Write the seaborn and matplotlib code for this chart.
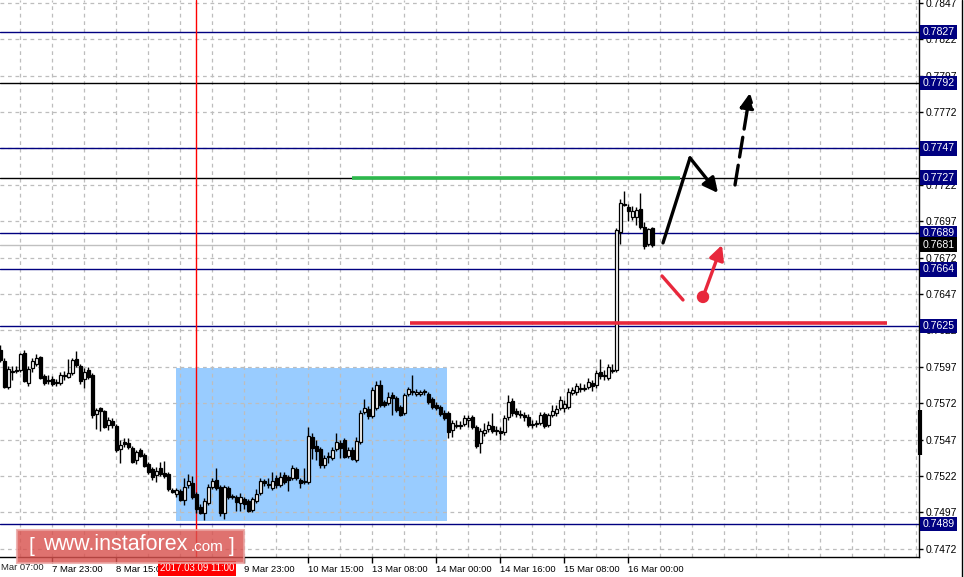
import matplotlib
matplotlib.use("Agg")
import numpy as np
import pandas as pd
import matplotlib.pyplot as plt
import seaborn as sns
from matplotlib.patches import Rectangle, FancyArrowPatch
from matplotlib.lines import Line2D

# H1 candles, 7 Mar 10:00 .. 16 Mar 07:00
opens = [0.76086, 0.76010, 0.75832, 0.75934, 0.75941, 0.75948, 0.76065, 0.75859, 0.75962, 0.75990,
         0.76037, 0.75907, 0.75880, 0.75886, 0.75866, 0.75859, 0.75907, 0.75900, 0.75927, 0.76024,
         0.75976, 0.75886, 0.75948, 0.75914, 0.75646, 0.75687, 0.75666, 0.75570, 0.75597, 0.75563,
         0.75405, 0.75453, 0.75446, 0.75412, 0.75330, 0.75399, 0.75365, 0.75302, 0.75268, 0.75227,
         0.75275, 0.75240, 0.75234, 0.75124, 0.75096, 0.75117, 0.75055, 0.75158, 0.75172, 0.75096,
         0.75007, 0.74966, 0.75034, 0.75144, 0.75192, 0.75144, 0.74966, 0.75138, 0.75083, 0.75076,
         0.75034, 0.75062, 0.75048, 0.74986, 0.75048, 0.75103, 0.75185, 0.75165, 0.75138, 0.75206,
         0.75158, 0.75227, 0.75213, 0.75206, 0.75268, 0.75192, 0.75185, 0.75179, 0.75488, 0.75426,
         0.75405, 0.75296, 0.75358, 0.75344, 0.75405, 0.75446, 0.75467, 0.75358, 0.75399, 0.75330,
         0.75453, 0.75660, 0.75680, 0.75632, 0.75687, 0.75846, 0.75728, 0.75721, 0.75777, 0.75756,
         0.75694, 0.75653, 0.75784, 0.75804, 0.75784, 0.75784, 0.75804, 0.75784, 0.75749, 0.75708,
         0.75694, 0.75653, 0.75653, 0.75536, 0.75570, 0.75570, 0.75577, 0.75604, 0.75625, 0.75556,
         0.75446, 0.75515, 0.75543, 0.75563, 0.75536, 0.75529, 0.75522, 0.75625, 0.75735, 0.75666,
         0.75646, 0.75639, 0.75625, 0.75577, 0.75584, 0.75584, 0.75646, 0.75570, 0.75639, 0.75653,
         0.75687, 0.75687, 0.75694, 0.75790, 0.75797, 0.75825, 0.75818, 0.75832, 0.75859, 0.75846,
         0.75934, 0.75914, 0.75893, 0.75948, 0.75948, 0.76896, 0.77088, 0.77067, 0.76999, 0.76999,
         0.77054, 0.76931, 0.76813, 0.76924]
closes = [0.76017, 0.75832, 0.75955, 0.75941, 0.75948, 0.76058, 0.75873, 0.75955, 0.76010, 0.76031,
          0.75893, 0.75859, 0.75873, 0.75853, 0.75859, 0.75914, 0.75914, 0.75927, 0.76017, 0.75983,
          0.75873, 0.75934, 0.75900, 0.75639, 0.75673, 0.75666, 0.75556, 0.75604, 0.75570, 0.75399,
          0.75433, 0.75439, 0.75419, 0.75316, 0.75385, 0.75358, 0.75289, 0.75247, 0.75213, 0.75254,
          0.75234, 0.75220, 0.75131, 0.75110, 0.75124, 0.75055, 0.75144, 0.75185, 0.75076, 0.74993,
          0.74966, 0.75048, 0.75144, 0.75185, 0.75138, 0.74966, 0.75144, 0.75076, 0.75076, 0.75041,
          0.75076, 0.75028, 0.74979, 0.75062, 0.75096, 0.75185, 0.75172, 0.75158, 0.75185, 0.75158,
          0.75213, 0.75179, 0.75192, 0.75275, 0.75206, 0.75172, 0.75179, 0.75494, 0.75412, 0.75392,
          0.75296, 0.75344, 0.75351, 0.75399, 0.75453, 0.75412, 0.75351, 0.75399, 0.75337, 0.75460,
          0.75653, 0.75687, 0.75632, 0.75811, 0.75846, 0.75708, 0.75708, 0.75763, 0.75756, 0.75673,
          0.75639, 0.75777, 0.75818, 0.75797, 0.75797, 0.75797, 0.75797, 0.75728, 0.75694, 0.75687,
          0.75646, 0.75618, 0.75522, 0.75584, 0.75563, 0.75563, 0.75618, 0.75618, 0.75556, 0.75426,
          0.75529, 0.75536, 0.75570, 0.75529, 0.75529, 0.75515, 0.75618, 0.75728, 0.75653, 0.75646,
          0.75639, 0.75625, 0.75570, 0.75570, 0.75577, 0.75639, 0.75563, 0.75639, 0.75666, 0.75680,
          0.75742, 0.75715, 0.75797, 0.75811, 0.75839, 0.75818, 0.75825, 0.75866, 0.75839, 0.75927,
          0.75907, 0.75907, 0.75969, 0.75941, 0.76910, 0.77095, 0.77081, 0.77040, 0.77040, 0.77047,
          0.76931, 0.76800, 0.76917, 0.76810]
highs = [0.76120, 0.76031, 0.75976, 0.75976, 0.75976, 0.76065, 0.76086, 0.75976, 0.76031, 0.76058,
         0.76044, 0.75921, 0.75914, 0.75907, 0.75886, 0.75934, 0.75941, 0.76024, 0.76031, 0.76079,
         0.75990, 0.75962, 0.75969, 0.75927, 0.75687, 0.75694, 0.75673, 0.75625, 0.75618, 0.75577,
         0.75467, 0.75481, 0.75481, 0.75426, 0.75399, 0.75412, 0.75378, 0.75316, 0.75282, 0.75282,
         0.75316, 0.75323, 0.75247, 0.75138, 0.75138, 0.75131, 0.75206, 0.75234, 0.75220, 0.75110,
         0.75028, 0.75069, 0.75165, 0.75206, 0.75275, 0.75158, 0.75158, 0.75151, 0.75096, 0.75090,
         0.75103, 0.75076, 0.75062, 0.75076, 0.75131, 0.75206, 0.75199, 0.75206, 0.75247, 0.75227,
         0.75247, 0.75247, 0.75227, 0.75296, 0.75282, 0.75206, 0.75275, 0.75556, 0.75515, 0.75467,
         0.75419, 0.75365, 0.75385, 0.75419, 0.75515, 0.75467, 0.75481, 0.75419, 0.75419, 0.75488,
         0.75673, 0.75749, 0.75701, 0.75832, 0.75873, 0.75880, 0.75742, 0.75797, 0.75797, 0.75770,
         0.75708, 0.75790, 0.75832, 0.75914, 0.75818, 0.75811, 0.75818, 0.75797, 0.75763, 0.75728,
         0.75708, 0.75673, 0.75666, 0.75604, 0.75604, 0.75597, 0.75639, 0.75639, 0.75639, 0.75570,
         0.75549, 0.75584, 0.75597, 0.75653, 0.75563, 0.75556, 0.75639, 0.75777, 0.75756, 0.75687,
         0.75673, 0.75660, 0.75646, 0.75604, 0.75604, 0.75660, 0.75660, 0.75653, 0.75708, 0.75708,
         0.75770, 0.75742, 0.75825, 0.75832, 0.75859, 0.75859, 0.75853, 0.75893, 0.75880, 0.75948,
         0.76024, 0.75948, 0.75990, 0.75990, 0.76924, 0.77123, 0.77178, 0.77088, 0.77074, 0.77067,
         0.77164, 0.76965, 0.76924, 0.76931]
lows = [0.76003, 0.75825, 0.75818, 0.75880, 0.75927, 0.75934, 0.75866, 0.75839, 0.75934, 0.75976,
        0.75886, 0.75846, 0.75853, 0.75839, 0.75839, 0.75846, 0.75880, 0.75893, 0.75914, 0.75969,
        0.75853, 0.75825, 0.75886, 0.75618, 0.75543, 0.75529, 0.75549, 0.75536, 0.75549, 0.75385,
        0.75309, 0.75419, 0.75405, 0.75309, 0.75302, 0.75351, 0.75282, 0.75234, 0.75192, 0.75179,
        0.75220, 0.75206, 0.75117, 0.75103, 0.75076, 0.75048, 0.75021, 0.75138, 0.75062, 0.74966,
        0.74959, 0.74917, 0.75021, 0.75131, 0.75124, 0.74945, 0.74924, 0.75062, 0.75062, 0.74979,
        0.74979, 0.74993, 0.74973, 0.74973, 0.75034, 0.75090, 0.75151, 0.75138, 0.75124, 0.75138,
        0.75144, 0.75165, 0.75117, 0.75192, 0.75192, 0.75138, 0.75165, 0.75165, 0.75337, 0.75330,
        0.75275, 0.75275, 0.75309, 0.75330, 0.75392, 0.75344, 0.75344, 0.75344, 0.75330, 0.75316,
        0.75439, 0.75646, 0.75611, 0.75618, 0.75673, 0.75694, 0.75694, 0.75708, 0.75639, 0.75660,
        0.75632, 0.75639, 0.75770, 0.75777, 0.75770, 0.75770, 0.75777, 0.75715, 0.75680, 0.75673,
        0.75632, 0.75604, 0.75481, 0.75488, 0.75549, 0.75543, 0.75563, 0.75556, 0.75543, 0.75412,
        0.75378, 0.75494, 0.75522, 0.75515, 0.75501, 0.75467, 0.75501, 0.75604, 0.75632, 0.75625,
        0.75618, 0.75597, 0.75556, 0.75549, 0.75556, 0.75570, 0.75549, 0.75556, 0.75625, 0.75632,
        0.75673, 0.75660, 0.75680, 0.75777, 0.75777, 0.75797, 0.75804, 0.75818, 0.75804, 0.75825,
        0.75886, 0.75880, 0.75880, 0.75927, 0.75934, 0.76813, 0.77074, 0.76972, 0.76979, 0.76945,
        0.76917, 0.76779, 0.76800, 0.76793]

# axis ticks
price_ticks = [0.7472, 0.7497, 0.7522, 0.7547, 0.7572, 0.7597, 0.7622, 0.7647,
               0.7672, 0.7697, 0.7722, 0.7747, 0.7772, 0.7797, 0.7822, 0.7847]
time_tick_pos = [13, 29, 61, 77, 93, 109, 125, 141, 157]
time_tick_labels = ["7 Mar 23:00", "8 Mar 15:00", "9 Mar 23:00", "10 Mar 15:00",
                    "13 Mar 08:00", "14 Mar 00:00", "14 Mar 16:00", "15 Mar 08:00",
                    "16 Mar 00:00"]
first_time_label = "Mar 07:00"

# levels drawn on the chart
navy_levels = [0.7827, 0.7747, 0.7689, 0.7664, 0.7625, 0.7489]
black_levels = [0.7792, 0.7727]
bid_price = 0.7681
marked_bar = 49
marked_label = "2017.03.09 11:00"

# consolidation box (candle index range, price range)
box_x = [43.9, 111.65]
box_y = [0.74911, 0.75962]

# support / resistance segments
green_x, green_y = [87.9, 169.9], 0.7727
red_x, red_y = [102.4, 221.65], 0.76271

# forecast arrows
up_path_x = [165.65, 172.4, 179.4]
up_path_y = [0.76821, 0.77405, 0.77164]
dash_x = [183.65, 187.4]
dash_y = [0.77219, 0.77851]
alt_line_x = [165.4, 170.65]
alt_line_y = [0.76594, 0.76429]
alt_dot_x, alt_dot_y = 175.65, 0.76450
alt_arrow_x, alt_arrow_y = 180.4, 0.76807

W, H = 964, 577
NAVY = "#000080"
RED = "#E8283C"

sns.set_style("white")
plt.rcParams["font.family"] = ["Liberation Sans", "DejaVu Sans"]

fig = plt.figure(figsize=(W / 100, H / 100), dpi=100)
fig.patch.set_facecolor("white")
ax = fig.add_axes([0, 20 / H, 919 / W, 557 / H])
ax.set_xlim(-0.1, 229.65)
ax.set_ylim(0.74663, 0.78490)

# grid
for p in price_ticks:
    ax.axhline(p, color="#BDBDBD", lw=0.9, ls=(0, (3, 3)), zorder=1)
for gx in np.arange(5, 230, 8):
    ax.axvline(gx, color="#BDBDBD", lw=0.9, ls=(0, (3, 3)), zorder=1)

ax.add_patch(Rectangle((box_x[0], box_y[0]), box_x[1] - box_x[0], box_y[1] - box_y[0],
                       facecolor="#99CCFF", edgecolor="none", zorder=0.5))

# levels
for lv in navy_levels:
    ax.axhline(lv, color=NAVY, lw=1.0, zorder=2)
for lv in black_levels:
    ax.axhline(lv, color="black", lw=1.0, zorder=2)
ax.axhline(bid_price, color="#C0C0C0", lw=1.0, zorder=2)
ax.axvline(marked_bar, color="#FF0000", lw=1.0, zorder=2)

# candles
df = pd.DataFrame({"o": opens, "h": highs, "l": lows, "c": closes})
df["x"] = np.arange(len(df))
bull = df["c"] >= df["o"]
ax.vlines(df["x"], df["l"], df["h"], color="black", lw=1.0, zorder=3)
body_low = np.minimum(df["o"], df["c"])
body_h = np.maximum(np.abs(df["c"] - df["o"]), 0.00002)
ax.bar(df["x"], body_h, bottom=body_low, width=0.6,
       color=np.where(bull, "white", "black"), edgecolor="black", lw=0.9, zorder=4)

# support / resistance
ax.hlines(green_y, *green_x, color="#2DB84C", lw=2.6, zorder=5)
ax.hlines(red_y, *red_x, color=RED, lw=2.6, zorder=5)

# forecast paths
path = pd.DataFrame({"x": up_path_x, "y": up_path_y})
sns.lineplot(data=path.iloc[:2], x="x", y="y", sort=False, estimator=None,
             color="black", lw=2.4, ax=ax, zorder=6)
ax.add_patch(FancyArrowPatch((up_path_x[1], up_path_y[1]), (up_path_x[2], up_path_y[2]),
                             arrowstyle="-|>", mutation_scale=22, color="black", lw=2.4,
                             shrinkA=0, shrinkB=0, zorder=6))
ax.add_patch(FancyArrowPatch((dash_x[0], dash_y[0]), (dash_x[1], dash_y[1]),
                             arrowstyle="-|>", mutation_scale=22, color="black", lw=2.4,
                             linestyle=(0, (6, 2.5)), shrinkA=0, shrinkB=0, zorder=6))
sns.lineplot(x=alt_line_x, y=alt_line_y, sort=False, estimator=None,
             color=RED, lw=2.4, ax=ax, zorder=6)
ax.add_patch(FancyArrowPatch((alt_dot_x, alt_dot_y), (alt_arrow_x, alt_arrow_y),
                             arrowstyle="-|>", mutation_scale=22, color=RED, lw=2.4,
                             shrinkA=0, shrinkB=0, zorder=6))
sns.scatterplot(x=[alt_dot_x], y=[alt_dot_y], color=RED, s=80, edgecolor="none",
                ax=ax, zorder=7)

# axes styling
for side in ["top", "left"]:
    ax.spines[side].set_visible(False)
for side in ["right", "bottom"]:
    ax.spines[side].set_color("black")
    ax.spines[side].set_linewidth(1.0)
ax.set_xlabel("")
ax.set_ylabel("")
ax.yaxis.tick_right()
ax.set_yticks(price_ticks)
# the 0.7747 tick label sits fully under its level tag
ax.set_yticklabels(["" if abs(p - 0.7747) < 1e-6 else f"{p:.4f}" for p in price_ticks])
ax.tick_params(axis="y", right=True, length=3, width=1, pad=2, labelsize=7.4, colors="black")
ax.set_xticks(time_tick_pos)
ax.set_xticklabels(time_tick_labels)
ax.tick_params(axis="x", bottom=True, length=4, width=1, pad=2, labelsize=6.8, colors="black")
for t in ax.get_xticklabels():
    t.set_ha("left")
fig.text(1 / W, 1 - 567 / H, first_time_label, fontsize=6.8, va="center", ha="left")

# level price tags
ytr = ax.get_yaxis_transform()
for lv in navy_levels + black_levels:
    ax.text(1.004, lv, f"{lv:.4f}", transform=ytr, ha="left", va="center", fontsize=7.6,
            color="white", zorder=10, clip_on=False,
            bbox=dict(boxstyle="square,pad=0.22", fc=NAVY, ec="none"))
ax.text(1.004, bid_price, f"{bid_price:.4f}", transform=ytr, ha="left", va="center",
        fontsize=7.6, color="white", zorder=10, clip_on=False,
        bbox=dict(boxstyle="square,pad=0.22", fc="black", ec="none"))
ax.plot([1.0015, 1.0015], [0.75673, 0.75365], transform=ytr, color="black", lw=3,
        clip_on=False, zorder=10, solid_capstyle="butt")

# neighbouring pane edge
fig.add_artist(Line2D([961.5 / W, 961.5 / W], [0, 1], color="black", lw=1))

# marked bar date tag
fig.patches.append(Rectangle((158 / W, 1 - 576 / H), 78 / W, 15 / H, transform=fig.transFigure,
                             facecolor="#FF0000", edgecolor="none", zorder=20))
fig.text(197 / W, 1 - 568 / H, marked_label, fontsize=6.9, color="white",
         ha="center", va="center", zorder=21)

# watermark
fig.patches.append(Rectangle((17 / W, 1 - 563 / H), 227 / W, 33 / H, transform=fig.transFigure,
                             facecolor="#D9534F", edgecolor="#EBA3A1", lw=1.5, alpha=0.82,
                             zorder=22))
fig.text(28 / W, 1 - 547 / H, "[", fontsize=15, color="white", va="center", zorder=23)
fig.text(43 / W, 1 - 545 / H, "www.instaforex", fontsize=15.5, color="white", va="center",
         zorder=23)
fig.text(191 / W, 1 - 547 / H, ".com", fontsize=11, color="white", va="center", zorder=23)
fig.text(229 / W, 1 - 547 / H, "]", fontsize=15, color="white", va="center", zorder=23)

fig.savefig("out.png", dpi=100)
